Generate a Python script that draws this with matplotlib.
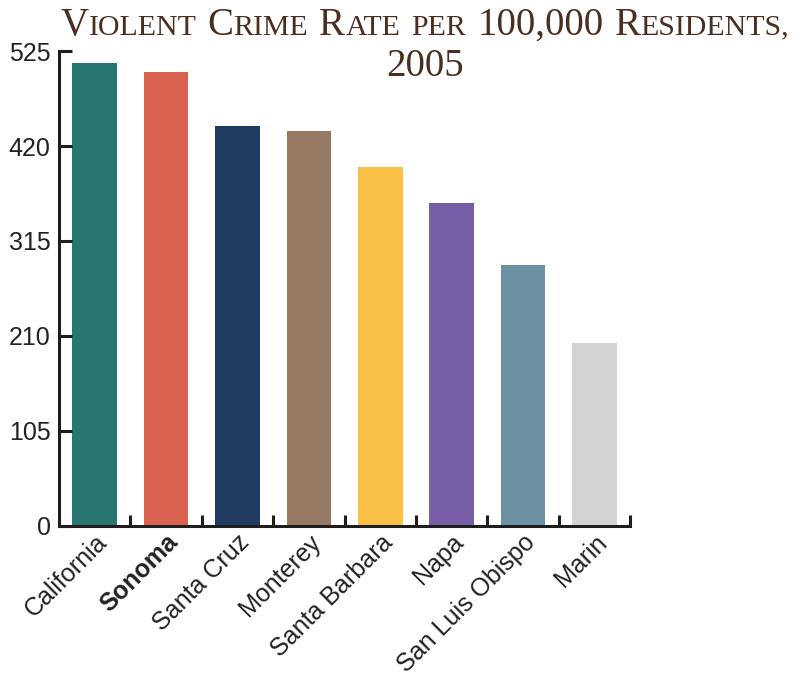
import matplotlib.pyplot as plt
from matplotlib.offsetbox import TextArea, HPacker, VPacker, AnnotationBbox

counties = ["California", "Sonoma", "Santa Cruz", "Monterey", "Santa Barbara",
            "Napa", "San Luis Obispo", "Marin"]
rates = [512, 502, 442, 437, 397, 357, 288, 202]
colors = ["#277670", "#d96150", "#213c62", "#967a64", "#fbc046",
          "#775ea6", "#6b91a3", "#d2d3d5"]
yticks = [0, 105, 210, 315, 420, 525]

title_color = "#4a2e1f"
serif = "Liberation Serif"
big, small = 28, 21.5

fig = plt.figure(figsize=(7.97, 6.76), dpi=100)
ax = fig.add_axes([0.074, 0.222, 0.7165, 0.7025])

x = range(len(counties))
ax.bar(x, rates, width=0.625, color=colors)

ax.set_xlim(-0.5, len(counties) - 0.5)
ax.set_ylim(0, 525)
ax.set_yticks(yticks)
ax.set_yticklabels([str(v) for v in yticks])

ax.set_xticks([i + 0.5 for i in x], minor=True)
ax.set_xticks(list(x))
ax.tick_params(axis="x", which="major", length=0, pad=3)
ax.tick_params(axis="x", which="minor", direction="in", length=8, width=2.2, color="#1e1e1e")
ax.tick_params(axis="y", direction="in", length=9.5, width=2.2, color="#1e1e1e",
               labelsize=18, labelcolor="#222222", pad=6)

ax.set_xticklabels(counties, rotation=45, ha="right", va="top",
                   rotation_mode="anchor", fontsize=18, color="#222222",
                   family="Liberation Sans")
for lab in ax.get_xticklabels():
    if lab.get_text() == "Sonoma":
        lab.set_fontweight("bold")
for lab in ax.get_yticklabels():
    lab.set_family("Liberation Sans")

for s in ["top", "right"]:
    ax.spines[s].set_visible(False)
for s in ["left", "bottom"]:
    ax.spines[s].set_linewidth(2.2)
    ax.spines[s].set_color("#1e1e1e")


# title in small caps, built from pieces
def word(pieces):
    kids = []
    for txt, sz in pieces:
        kids.append(TextArea(txt, textprops=dict(fontsize=sz, family=serif, color=title_color)))
    return HPacker(children=kids, align="baseline", pad=0, sep=0)


line1 = [
    [("V", big), ("IOLENT", small)],
    [("C", big), ("RIME", small)],
    [("R", big), ("ATE", small)],
    [("PER", small)],
    [("100,000", big)],
    [("R", big), ("ESIDENTS,", small)],
]
row1 = HPacker(children=[word(w) for w in line1], align="baseline", pad=0, sep=8)
row2 = word([("2005", big)])
block = VPacker(children=[row1, row2], align="center", pad=0, sep=3)
ab = AnnotationBbox(block, (0.533, 0.99), xycoords="figure fraction",
                    box_alignment=(0.5, 1), frameon=False)
fig.add_artist(ab)

fig.savefig("out.png", dpi=100)
